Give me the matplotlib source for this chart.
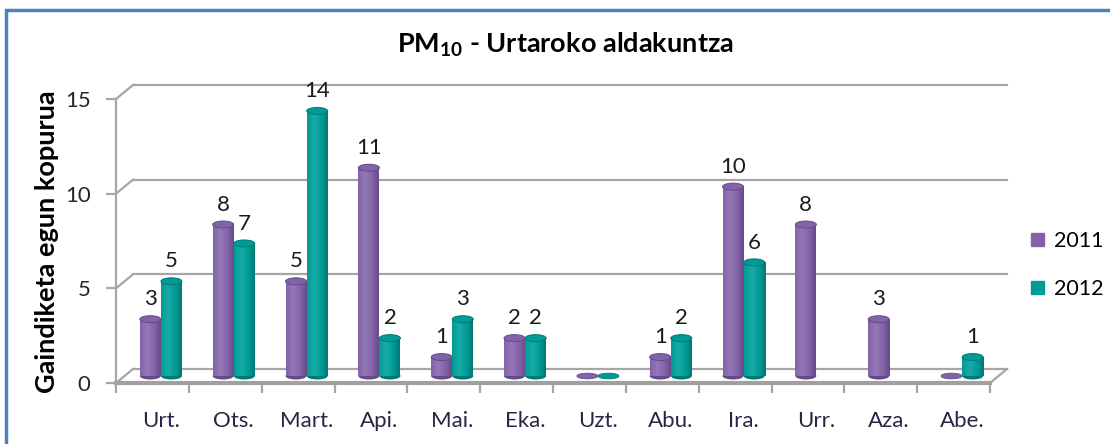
import numpy as np
import matplotlib.pyplot as plt
from matplotlib.patches import Rectangle, Ellipse, Patch
from matplotlib.colors import LinearSegmentedColormap

# data
months = ['Urt.', 'Ots.', 'Mart.', 'Api.', 'Mai.', 'Eka.',
          'Uzt.', 'Abu.', 'Ira.', 'Urr.', 'Aza.', 'Abe.']
y2011 = [3, 8, 5, 11, 1, 2, 0, 1, 10, 8, 3, 0]
y2012 = [5, 7, 14, 2, 3, 2, 0, 2, 6, None, None, 1]
yticks = [0, 5, 10, 15]
series = ['2011', '2012']

plt.rcParams['font.family'] = ['Lato', 'DejaVu Sans']
plt.rcParams['mathtext.fontset'] = 'custom'
plt.rcParams['mathtext.rm'] = 'Lato'
plt.rcParams['mathtext.bf'] = 'Lato:bold'

W, H = 1110, 444
fig = plt.figure(figsize=(W / 100, H / 100), dpi=100)

# front plane of the fake 3D box, in pixels
L, R, B0, T15 = 116, 990, 383, 99
ax = fig.add_axes([L / W, 1 - B0 / H, (R - L) / W, (B0 - T15) / H])
ax.set_facecolor('none')
px_x = 12 / (R - L)
px_y = 15 / (B0 - T15)
DX, DY = 17 * px_x, 14 * px_y      # depth of the box
MX, MY = DX / 2, DY / 2            # bars stand half way in
BW = 21 * px_x                     # cylinder width
EH = 7 * px_y                      # ellipse height
grid = '#a6a6a6'

# back wall + left wall lines
for v in yticks:
    ax.plot([DX, 12 + DX], [v + DY, v + DY], color=grid, lw=1.6, clip_on=False, zorder=1)
    ax.plot([0, DX], [v, v + DY], color=grid, lw=1.6, clip_on=False, zorder=1)
ax.plot([12, 12 + DX], [0, DY], color=grid, lw=1.6, clip_on=False, zorder=1)

colors = {
    '2011': ('#654a8a', '#8363a8', '#9478b8'),
    '2012': ('#007874', '#009b96', '#18aba6'),
}


def cylinder(xc, v, dark, mid, light, z):
    x0 = xc - BW / 2 + MX
    if v == 0:
        ax.add_patch(Ellipse((xc + MX, MY), BW, EH * 0.8, facecolor=mid,
                             edgecolor=dark, lw=0.6, zorder=z))
        return
    ax.add_patch(Ellipse((xc + MX, MY), BW, EH, facecolor=dark,
                         edgecolor='none', zorder=z))
    cmap = LinearSegmentedColormap.from_list(
        'c', [(0, mid), (0.35, light), (0.7, mid), (1, dark)])
    grad = np.linspace(0, 1, 64)[None, :]
    ax.imshow(grad, cmap=cmap, extent=[x0, x0 + BW, MY, v + MY],
              aspect='auto', origin='lower', zorder=z + 0.1,
              interpolation='bilinear')
    ax.add_patch(Ellipse((xc + MX, v + MY), BW, EH, facecolor=mid,
                         edgecolor=dark, lw=0.7, zorder=z + 0.2))
    ax.annotate(str(v), (xc + MX, v + MY), xytext=(0, 10),
                textcoords='offset points', ha='center', va='baseline',
                fontsize=16, color='#1a1a1a', annotation_clip=False)


for i in range(len(months)):
    for k, (name, vals) in enumerate(zip(series, [y2011, y2012])):
        v = vals[i]
        if v is None:
            continue
        xc = i + (0.355 if k == 0 else 0.645)
        cylinder(xc, v, *colors[name], z=3 + k)

ax.set_xlim(0, 12)
ax.set_ylim(0, 15)

# axes look
for s in ['top', 'right']:
    ax.spines[s].set_visible(False)
ax.spines['left'].set_color(grid)
ax.spines['left'].set_linewidth(1.6)
ax.spines['bottom'].set_color('#a0a0a0')
ax.spines['bottom'].set_linewidth(3)

ax.set_yticks(yticks)
ax.set_yticklabels([str(t) for t in yticks], fontsize=16, color='#262626')
ax.tick_params(axis='y', length=7.2, width=1.6, color=grid, pad=11)

ax.set_xticks(np.arange(len(months)) + 0.5 + MX)
ax.set_xticklabels(months, fontsize=16, color='#262646')
ax.set_xticks(np.arange(len(months) + 1), minor=True)
ax.tick_params(axis='x', which='major', length=0, pad=20)
ax.tick_params(axis='x', which='minor', length=7.2, width=1.6, color=grid)

ax.legend(handles=[Patch(color=colors[s][1], label=s) for s in series],
          loc='center left', bbox_to_anchor=(1012 / W, 1 - 265 / H),
          bbox_transform=fig.transFigure, frameon=False, fontsize=15.5,
          handlelength=0.6, handleheight=0.6, handletextpad=0.45,
          labelspacing=1.3)

fig.text(565 / W, 1 - 45 / H, r'PM$_{\mathbf{10}}$ - Urtaroko aldakuntza',
         ha='center', va='center', fontsize=19.5, fontweight='bold')
fig.text(47 / W, 1 - 242 / H, 'Gaindiketa egun kopurua', rotation=90,
         ha='center', va='center', fontsize=19.5, fontweight='bold')

# outer chart border (runs off the right and bottom edges)
fig.patches.append(Rectangle((6 / W, -0.1), 1.2, 1.1 - 10 / H,
                             transform=fig.transFigure, fill=False,
                             edgecolor='#4f81bd', lw=2.5))

fig.savefig('out.png', dpi=100)
